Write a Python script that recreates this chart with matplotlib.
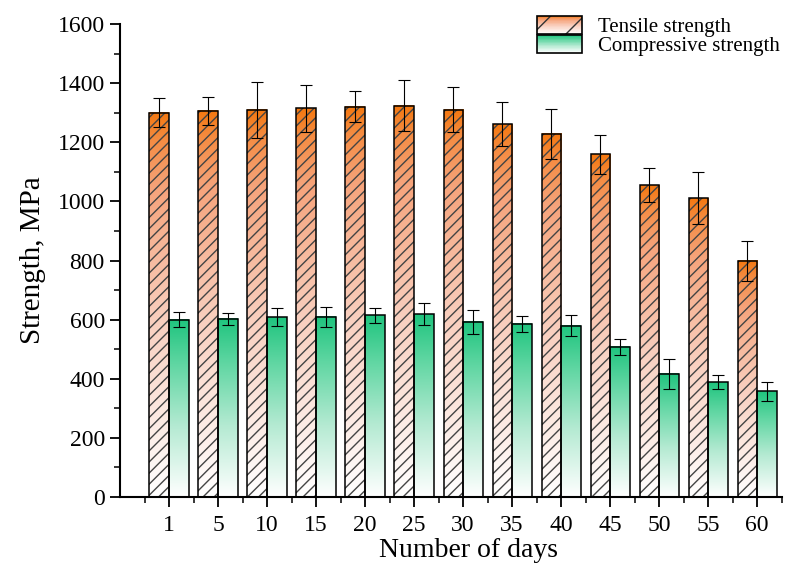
import numpy as np
import matplotlib
matplotlib.use("Agg")
import matplotlib.pyplot as plt
from matplotlib.colors import LinearSegmentedColormap
from matplotlib.patches import Rectangle
from matplotlib.legend_handler import HandlerBase
from matplotlib.ticker import MultipleLocator

days = ["1", "5", "10", "15", "20", "25", "30", "35", "40", "45", "50", "55", "60"]
tensile = [1300, 1306, 1310, 1315, 1320, 1324, 1310, 1261, 1229, 1159, 1055, 1010, 799]
tensile_err = [50, 47, 95, 80, 53, 87, 77, 75, 85, 67, 58, 88, 68]
compressive = [600, 603, 608, 609, 615, 618, 592, 586, 580, 509, 417, 389, 357]
compressive_err = [25, 21, 30, 34, 26, 37, 42, 27, 35, 27, 51, 25, 31]

plt.rcParams['font.family'] = ['Liberation Serif', 'DejaVu Serif']

orange_cmap = LinearSegmentedColormap.from_list(
    "orng", [(0.0, "#ffffff"), (0.45, "#f9d0c0"), (0.8, "#f6a47c"), (0.93, "#f58c42"), (1.0, "#f47810")])
green_cmap = LinearSegmentedColormap.from_list(
    "grn", [(0.0, "#ffffff"), (0.4, "#b4ead2"), (0.75, "#5fd6a2"), (1.0, "#1fc47e")])

grad = np.linspace(0, 1, 256).reshape(-1, 1)


class GradientHandler(HandlerBase):
    """legend box filled with vertical gradient strips"""
    def __init__(self, cmap, hatch=None):
        super().__init__()
        self.cmap = cmap
        self.hatch = hatch

    def create_artists(self, legend, orig_handle, xdescent, ydescent, width, height, fontsize, trans):
        arts = []
        n = 30
        for i in range(n):
            r = Rectangle((-xdescent, -ydescent + i * height / n), width, height / n + 0.3,
                          facecolor=self.cmap(i / (n - 1)), edgecolor='none', linewidth=0, transform=trans)
            arts.append(r)
        if self.hatch:
            arts.append(Rectangle((-xdescent, -ydescent), width, height, facecolor='none',
                                  edgecolor='#333333', hatch=self.hatch, linewidth=0, transform=trans))
        arts.append(Rectangle((-xdescent, -ydescent), width, height, facecolor='none',
                              edgecolor='black', linewidth=1.2, transform=trans))
        return arts


fig = plt.figure(figsize=(7.96, 5.66), dpi=100)
ax = fig.add_axes([0.1508, 0.1219, 0.8312, 0.8357])

x = np.arange(1, len(days) + 1)
w = 0.4

for xi, v in zip(x - w / 2, tensile):
    ax.imshow(grad, cmap=orange_cmap, extent=(xi - w / 2, xi + w / 2, 0, v),
              origin='lower', aspect='auto', zorder=1)
for xi, v in zip(x + w / 2, compressive):
    ax.imshow(grad, cmap=green_cmap, extent=(xi - w / 2, xi + w / 2, 0, v),
              origin='lower', aspect='auto', zorder=1)

# hatch layer then outlines
ax.bar(x - w / 2, tensile, w, facecolor='none', edgecolor='#444444', hatch='///', linewidth=0, zorder=2)
ax.bar(x - w / 2, tensile, w, facecolor='none', edgecolor='black', linewidth=1.1, zorder=3)
ax.bar(x + w / 2, compressive, w, facecolor='none', edgecolor='black', linewidth=1.1, zorder=3)

ax.errorbar(x - w / 2, tensile, yerr=tensile_err, fmt='none', ecolor='black',
            elinewidth=0.8, capsize=4, capthick=0.8, zorder=4)
ax.errorbar(x + w / 2, compressive, yerr=compressive_err, fmt='none', ecolor='black',
            elinewidth=0.8, capsize=4, capthick=0.8, zorder=4)

ax.set_xlim(0, 13.5)
ax.set_ylim(0, 1600)
ax.set_xticks(x)
ax.set_xticklabels(days)
ax.set_xticks(np.arange(0.5, 14, 1), minor=True)
ax.yaxis.set_major_locator(MultipleLocator(200))
ax.yaxis.set_minor_locator(MultipleLocator(100))

for s in ['top', 'right']:
    ax.spines[s].set_visible(False)
for s in ['left', 'bottom']:
    ax.spines[s].set_linewidth(1.5)

ax.tick_params(axis='both', which='major', direction='out', length=7, width=1.3, labelsize=17, pad=4)
ax.tick_params(axis='both', which='minor', direction='out', length=4, width=1.1)
ax.tick_params(axis='x', which='major', pad=6)

ax.set_ylabel("Strength, MPa", fontsize=21, labelpad=8)
ax.set_xlabel("Number of days", fontsize=20, labelpad=2)
ax.xaxis.set_label_coords(0.527, -0.087)

h1 = Rectangle((0, 0), 1, 1)
h2 = Rectangle((0, 0), 1, 1)
ax.legend([h1, h2], ["Tensile strength", "Compressive strength"],
          handler_map={h1: GradientHandler(orange_cmap, '/'), h2: GradientHandler(green_cmap)},
          loc='upper left', bbox_to_anchor=(537 / 796, 1 - 16 / 566), bbox_transform=fig.transFigure,
          frameon=False, fontsize=15, handlelength=2.15, handleheight=0.95, labelspacing=-0.1,
          handletextpad=0.8, borderpad=0, borderaxespad=0)

fig.savefig("out.png", dpi=100)
